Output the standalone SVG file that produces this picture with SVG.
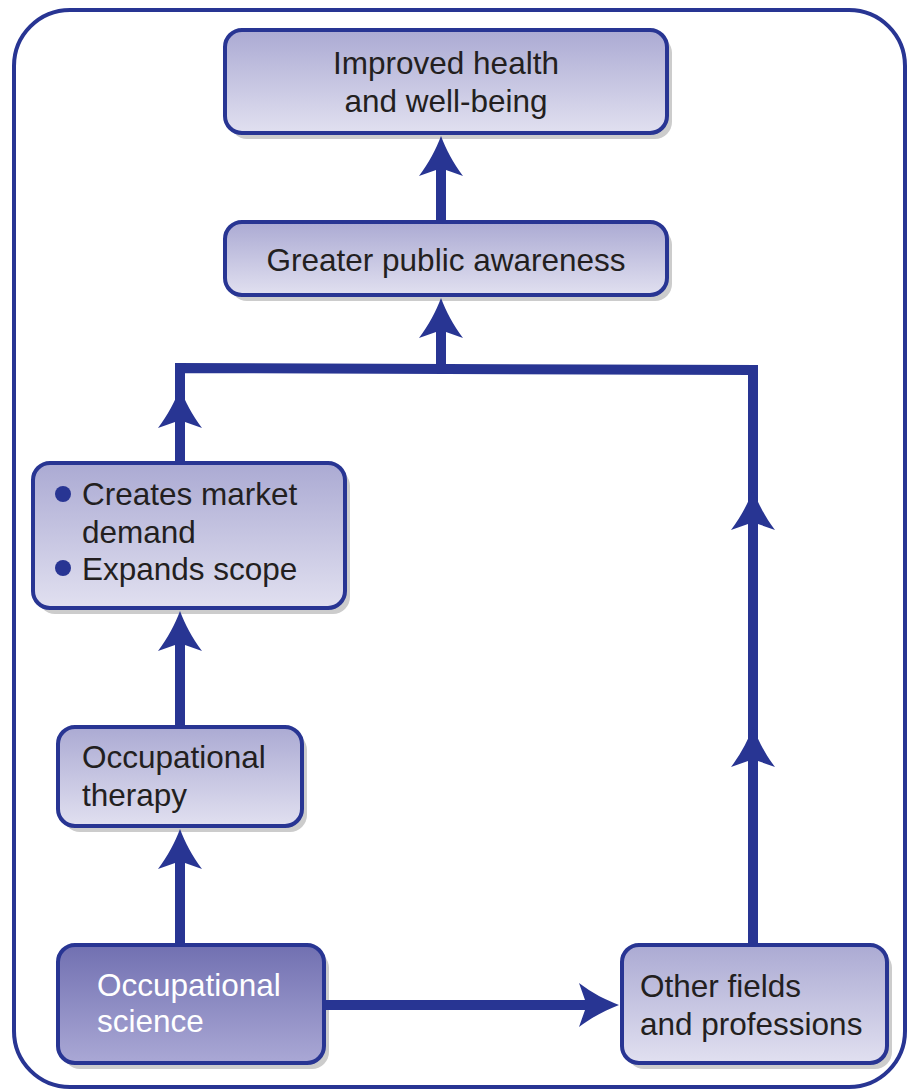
<svg xmlns="http://www.w3.org/2000/svg" xmlns:xlink="http://www.w3.org/1999/xlink" width="910" height="1089" viewBox="0 0 910 1089">
<defs>
<linearGradient id="gLight" x1="0" y1="0" x2="0" y2="1">
<stop offset="0" stop-color="#abaad3"/>
<stop offset="1" stop-color="#e1e0f0"/>
</linearGradient>
<linearGradient id="gDark" x1="0" y1="0" x2="0" y2="1">
<stop offset="0" stop-color="#7170b1"/>
<stop offset="1" stop-color="#aaa8d5"/>
</linearGradient>
<path id="ah" d="M0,0 C5,13 12,27 22,40 L5,34 L-5,34 L-22,40 C-12,27 -5,13 0,0 Z"/>
<style>
.frame{fill:none;stroke:#283593;stroke-width:4}
.box{fill:url(#gLight);stroke:#283593;stroke-width:4}
.dark{fill:url(#gDark);stroke:#283593;stroke-width:4}
.shadow{fill:#cccccc}
.t{font-family:"Liberation Sans",Arial,sans-serif;font-size:31.5px;fill:#231f20}
.w{fill:#ffffff}
.c{text-anchor:middle}
.ln{fill:none;stroke:#283593;stroke-width:10;stroke-linejoin:miter}
.arr{fill:#283593}
</style>
</defs>
<rect class="frame" x="14" y="10" width="891" height="1077" rx="56"/>
<g id="node-improved">
<rect class="shadow" x="230" y="36" width="442" height="103" rx="17"/>
<rect class="box" x="225" y="30" width="442" height="103" rx="17"/>
<text class="t c" x="446" y="74">Improved health</text>
<text class="t c" x="446" y="112">and well-being</text>
</g>
<g id="node-awareness">
<rect class="shadow" x="230" y="228" width="442" height="73" rx="17"/>
<rect class="box" x="225" y="222" width="442" height="73" rx="17"/>
<text class="t c" x="446" y="271">Greater public awareness</text>
</g>
<g id="node-market">
<rect class="shadow" x="38" y="469" width="312" height="145" rx="17"/>
<rect class="box" x="33" y="463" width="312" height="145" rx="17"/>
<circle class="arr" cx="63" cy="494" r="8"/>
<circle class="arr" cx="63" cy="568" r="8"/>
<text class="t" x="82" y="505">Creates market</text>
<text class="t" x="82" y="543">demand</text>
<text class="t" x="82" y="580">Expands scope</text>
</g>
<g id="node-therapy">
<rect class="shadow" x="63" y="733" width="244" height="99" rx="17"/>
<rect class="box" x="58" y="727" width="244" height="99" rx="17"/>
<text class="t" x="82" y="768">Occupational</text>
<text class="t" x="82" y="806">therapy</text>
</g>
<g id="node-science">
<rect class="shadow" x="63" y="951" width="266" height="118" rx="17"/>
<rect class="dark" x="58" y="945" width="266" height="118" rx="17"/>
<text class="t w" x="97" y="996">Occupational</text>
<text class="t w" x="97" y="1032">science</text>
</g>
<g id="node-other">
<rect class="shadow" x="627" y="951" width="265" height="118" rx="17"/>
<rect class="box" x="622" y="945" width="265" height="118" rx="17"/>
<text class="t" x="640" y="997">Other fields</text>
<text class="t" x="640" y="1035">and professions</text>
</g>
<g id="connectors">
<line class="ln" x1="441" y1="220" x2="441" y2="152"/>
<use href="#ah" class="arr" transform="translate(441,136)"/>
<polyline class="ln" points="180,461 180,368 753,370 753,943"/>
<line class="ln" x1="441" y1="369" x2="441" y2="314"/>
<use href="#ah" class="arr" transform="translate(441,298)"/>
<use href="#ah" class="arr" transform="translate(180,388)"/>
<use href="#ah" class="arr" transform="translate(753,490)"/>
<use href="#ah" class="arr" transform="translate(753,727)"/>
<line class="ln" x1="180" y1="943" x2="180" y2="845"/>
<use href="#ah" class="arr" transform="translate(180,829)"/>
<line class="ln" x1="180" y1="725" x2="180" y2="627"/>
<use href="#ah" class="arr" transform="translate(180,611)"/>
<line class="ln" x1="326" y1="1005" x2="603" y2="1005"/>
<use href="#ah" class="arr" transform="translate(619,1005) rotate(90)"/>
</g>
</svg>
